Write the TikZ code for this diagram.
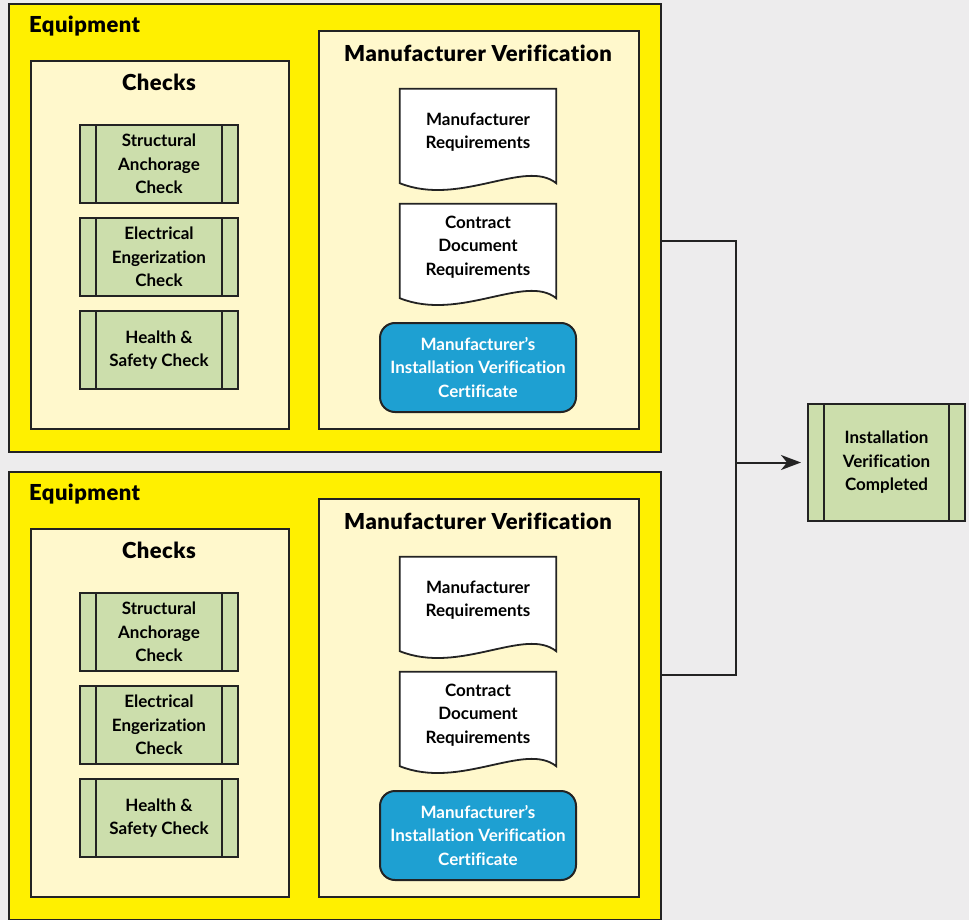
\documentclass[tikz,border=0pt]{standalone}
\usepackage{fontspec}
\setmainfont{Lato}[Ligatures=NoCommon]
\newfontfamily\titlefont{Lato Black}[Ligatures=NoCommon, LetterSpace=2]
\usetikzlibrary{calc,arrows.meta}

\definecolor{pagebg}{RGB}{237,236,237}
\definecolor{eqyellow}{RGB}{255,240,0}
\definecolor{cream}{RGB}{255,248,204}
\definecolor{checkgreen}{RGB}{204,222,172}
\definecolor{certblue}{RGB}{30,160,210}
\definecolor{ink}{RGB}{35,35,35}

\pgfdeclarelayer{back}
\pgfdeclarelayer{docs}
\pgfsetlayers{back,docs,main}

\tikzset{
  panel/.style={draw=ink, line width=2pt, fill=eqyellow, anchor=north west, inner sep=0pt},
  group/.style={draw=ink, line width=1.8pt, fill=cream, anchor=north west, inner sep=0pt},
  title/.style={font=\titlefont\fontsize{22}{24}\selectfont, text=black, inner sep=0pt},
  body/.style={font=\fontsize{17}{23.5}\selectfont\bfseries, align=center, text=black, inner sep=0pt},
  stepbox/.style={body, draw=ink, line width=2pt, fill=checkgreen,
    minimum width=#1, minimum height=78pt,
    path picture={
      \draw[ink, line width=2pt]
        ([xshift=16pt]path picture bounding box.north west) -- ([xshift=16pt]path picture bounding box.south west)
        ([xshift=-16pt]path picture bounding box.north east) -- ([xshift=-16pt]path picture bounding box.south east);
    }},
  stepbox/.default=158pt,
  docbox/.style={body, minimum width=156pt, minimum height=86pt},
  docline/.style={draw=ink, line width=1.8pt, fill=white},
  certbox/.style={body, text=white, draw=ink, line width=2pt, fill=certblue,
    rounded corners=15pt, minimum width=196pt, minimum height=89pt},
  link/.style={draw=ink, line width=2pt},
}

% wavy-bottom document outline around a named node
\newcommand\docoutline[1]{%
  \begin{pgfonlayer}{docs}
    \path[docline] (#1.north west) -- (#1.north east) -- ($(#1.south east)+(0,8)$)
      .. controls ($(#1.south east)+(-31,-17)$) and ($(#1.south west)+(60,32)$)
      .. ($(#1.south west)+(0,8)$) -- cycle;
  \end{pgfonlayer}}

\begin{document}
\begin{tikzpicture}[x=1pt, y=-1pt]
  \begin{pgfonlayer}{back}
    \fill[pagebg] (0,0) rectangle (969,920);
  \end{pgfonlayer}
  \useasboundingbox (0,0) rectangle (969,920);

  \foreach \k/\dy in {1/0, 2/468} {
    \begin{pgfonlayer}{back}
      \node[panel, minimum width=652pt, minimum height=448pt] (eq\k) at (8,3+\dy) {};
      \node[group, minimum width=258pt, minimum height=368pt] (chk\k) at (30,60+\dy) {};
      \node[group, minimum width=320pt, minimum height=398pt] (mv\k) at (318,30+\dy) {};
    \end{pgfonlayer}
    \node[title, anchor=west] (eqt\k) at (29,26+\dy) {Equipment};
    \node[title] (chkt\k) at (159,82+\dy) {Checks};
    \node[title] (mvt\k) at (478,53+\dy) {Manufacturer Verification};

    \node[stepbox] (sac\k) at (159,164+\dy) {Structural\\Anchorage\\Check};
    \node[stepbox] (eec\k) at (159,257+\dy) {Electrical\\Engerization\\Check};
    \node[stepbox] (hsc\k) at (159,350+\dy) {Health \&\\Safety Check};

    \node[docbox] (mr\k) at (478,132+\dy) {Manufacturer\\Requirements};
    \docoutline{mr\k}
    \node[docbox] (cdr\k) at (478,247+\dy) {Contract\\Document\\Requirements};
    \docoutline{cdr\k}
    \node[certbox] (cert\k) at (478,367.5+\dy) {Manufacturer’s\\Installation Verification\\Certificate};
  }

  \node[stepbox=157pt, minimum height=117pt] (done) at (886.5,462.5) {Installation\\Verification\\Completed};

  \coordinate (jt) at (736,241);
  \coordinate (jb) at (736,675);
  \coordinate (jm) at (736,462.5);
  \draw[link] (eq1.east |- jt) -- (jt) -- (jb) -- (eq2.east |- jb);
  \draw[link, -{Stealth[length=20pt, width=15pt, inset=6pt]}, shorten >=6pt] (jm) -- (done);
\end{tikzpicture}
\end{document}
